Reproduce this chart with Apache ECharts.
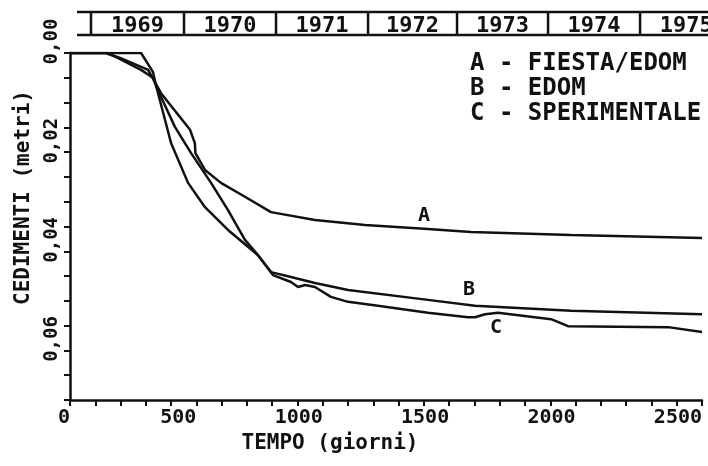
<!DOCTYPE html>
<html>
<head>
<meta charset="utf-8">
<script src="https://cdn.jsdelivr.net/npm/echarts@6/dist/echarts.min.js"></script>
<style>
    html, body { margin: 0; padding: 0; background: #fff; }
    #main { width: 708px; height: 466px; }
</style>
</head>
<body>
<div id="main"></div>
<script>
// curve: giorni / cedimenti (metri)
const daysA = [0, 140, 198, 309, 360, 475, 494, 496, 534, 597, 692, 795, 969, 1167, 1416, 1586, 1982, 2500]
const valsA = [0, 0, 0.001, 0.0034, 0.0081, 0.0155, 0.0182, 0.0202, 0.0236, 0.0262, 0.029, 0.0321, 0.0337, 0.0347, 0.0355, 0.0361, 0.0367, 0.0373]

const daysB = [0, 150, 281, 328, 348, 415, 479, 558, 625, 692, 736, 795, 874, 969, 1100, 1416, 1602, 1982, 2500]
const valsB = [0, 0, 0.0034, 0.005, 0.0075, 0.0149, 0.0202, 0.0262, 0.0317, 0.0377, 0.0403, 0.0442, 0.0452, 0.0464, 0.0478, 0.0498, 0.051, 0.052, 0.0527]

const daysC = [0, 281, 328, 340, 400, 467, 534, 625, 704, 744, 803, 874, 902, 930, 969, 1032, 1100, 1218, 1416, 1574, 1602, 1642, 1693, 1903, 1970, 2366, 2500]
const valsC = [0, 0, 0.0038, 0.0065, 0.0182, 0.0262, 0.0311, 0.0357, 0.0391, 0.0408, 0.0448, 0.0462, 0.0472, 0.0468, 0.0472, 0.0492, 0.0502, 0.051, 0.0524, 0.0533, 0.0533, 0.0527, 0.0524, 0.0537, 0.0551, 0.0553, 0.0563]

const seriesNames = ['A - FIESTA/EDOM', 'B - EDOM', 'C - SPERIMENTALE']
const curveTags = ['A', 'B', 'C']
const tagDays = [1400, 1578, 1685]
const tagVals = [0.0329, 0.0478, 0.0555]

// barra degli anni in alto
const yearNames = ['1969', '1970', '1971', '1972', '1973', '1974', '1975']
const yearStarts = [83, 451, 815, 1179, 1531, 1891, 2255]
const yearBarFrom = 28

const FONT = 'DejaVu Sans Mono'
const INK = '#111'

const chart = echarts.init(document.getElementById('main'))

const toPairs = (d, v) => d.map((x, i) => [x, v[i]])
const curves = [toPairs(daysA, valsA), toPairs(daysB, valsB), toPairs(daysC, valsC)]

const yearData = yearStarts.map((s, i) => [s, i < yearStarts.length - 1 ? yearStarts[i + 1] : s + 365, yearNames[i]])

const renderYear = (params, api) => {
    const s = api.value(0)
    const e = api.value(1)
    const tl = api.coord([s, 1])
    const br = api.coord([e, 0])
    const line = (x1, y1, x2, y2) => ({
        type: 'line',
        shape: { x1, y1, x2, y2 },
        style: { stroke: INK, lineWidth: 2.5 },
    })
    const children = [
        line(tl[0], tl[1], tl[0], br[1]),
        line(tl[0], tl[1], br[0], tl[1]),
        line(tl[0], br[1], br[0], br[1]),
        {
            type: 'text',
            style: {
                text: api.value(2),
                x: (tl[0] + br[0]) / 2,
                y: br[1] + 2,
                align: 'center',
                verticalAlign: 'bottom',
                font: 'bold 22px "' + FONT + '"',
                fill: INK,
            },
        },
    ]
    if (params.dataIndex === 0) {
        const from = api.coord([yearBarFrom, 0])[0]
        children.push(line(from, tl[1], tl[0], tl[1]), line(from, br[1], tl[0], br[1]))
    }
    return { type: 'group', children }
}

chart.setOption({
    animation: false,
    textStyle: { fontFamily: FONT, fontWeight: 'bold', color: INK },
    legend: {
        data: seriesNames,
        orient: 'vertical',
        left: 460,
        top: 47,
        icon: 'none',
        itemWidth: 0,
        itemHeight: 0,
        itemGap: 1,
        selectedMode: false,
        textStyle: { fontFamily: FONT, fontWeight: 'bold', fontSize: 24, lineHeight: 22, color: INK },
    },
    grid: [
        { left: 70, right: 6, top: 53, bottom: 66 },
        { left: 70, right: 6, top: 12, height: 23 },
    ],
    xAxis: [
        {
            type: 'value',
            min: 0,
            max: 2500,
            interval: 100,
            name: 'TEMPO (giorni)',
            nameLocation: 'middle',
            nameGap: 29,
            nameTextStyle: { fontFamily: FONT, fontWeight: 'bold', fontSize: 21, color: INK, padding: [0, 112, 0, 0] },
            axisLine: { onZero: false, lineStyle: { color: INK, width: 2.5 } },
            axisTick: { length: 6, lineStyle: { color: INK, width: 2 } },
            axisLabel: {
                margin: 8,
                align: 'right',
                fontFamily: FONT,
                fontWeight: 'bold',
                fontSize: 20,
                color: INK,
                formatter: (v) => (v % 500 === 0 ? String(v) : ''),
            },
            splitLine: { show: false },
        },
        { gridIndex: 1, type: 'value', min: 0, max: 2500, show: false },
    ],
    yAxis: [
        {
            type: 'value',
            inverse: true,
            min: 0,
            max: 0.07,
            interval: 0.005,
            name: 'CEDIMENTI (metri)',
            nameLocation: 'middle',
            nameGap: 36,
            nameTextStyle: { fontFamily: FONT, fontWeight: 'bold', fontSize: 21, color: INK, padding: [0, 0, 0, 58] },
            axisLine: { show: true, lineStyle: { color: INK, width: 2.5 } },
            axisTick: { show: true, length: 6, lineStyle: { color: INK, width: 2 } },
            axisLabel: {
                rotate: 90,
                margin: 8,
                fontFamily: FONT,
                fontWeight: 'bold',
                fontSize: 19,
                color: INK,
                // spazi iniziali: l'etichetta sta un po' sopra la tacca
                formatter: (v) => (Math.round(v * 1000) % 20 === 0 ? '  ' + v.toFixed(2).replace('.', ',') : ''),
            },
            splitLine: { show: false },
        },
        { gridIndex: 1, type: 'value', min: 0, max: 1, show: false },
    ],
    series: [
        ...curves.map((c, i) => ({
            name: seriesNames[i],
            type: 'line',
            data: c,
            showSymbol: false,
            lineStyle: { color: INK, width: 2.5 },
            itemStyle: { color: INK },
        })),
        {
            name: 'tags',
            type: 'scatter',
            data: curveTags.map((t, i) => [tagDays[i], tagVals[i], t]),
            symbolSize: 1,
            itemStyle: { color: 'rgba(0,0,0,0)', opacity: 1 },
            label: {
                show: true,
                position: 'inside',
                opacity: 1,
                formatter: (p) => p.data[2],
                fontFamily: FONT,
                fontWeight: 'bold',
                fontSize: 20,
                color: INK,
                textBorderWidth: 0,
            },
        },
        {
            name: 'anni',
            type: 'custom',
            xAxisIndex: 1,
            yAxisIndex: 1,
            clip: false,
            data: yearData,
            renderItem: renderYear,
        },
    ],
})
</script>
</body>
</html>
